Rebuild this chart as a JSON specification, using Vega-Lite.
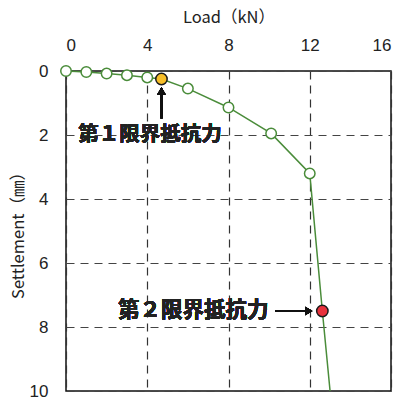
{
  "$schema": "https://vega.github.io/schema/vega-lite/v6.json",
  "width": 325,
  "height": 320,
  "autosize": {"type": "none"},
  "padding": {"left": 66, "top": 71, "right": 10, "bottom": 9},
  "background": "white",
  "config": {
    "view": {"stroke": "#111", "strokeWidth": 1.5},
    "font": "Liberation Sans"
  },
  "data": {
    "values": [
      {"load": 0, "settlement": 0.0, "kind": "test"},
      {"load": 1, "settlement": 0.03, "kind": "test"},
      {"load": 2, "settlement": 0.08, "kind": "test"},
      {"load": 3, "settlement": 0.13, "kind": "test"},
      {"load": 4, "settlement": 0.2, "kind": "test"},
      {"load": 4.7, "settlement": 0.25, "kind": "first"},
      {"load": 6, "settlement": 0.55, "kind": "test"},
      {"load": 8, "settlement": 1.14, "kind": "test"},
      {"load": 10.1, "settlement": 1.95, "kind": "test"},
      {"load": 12, "settlement": 3.2, "kind": "test"},
      {"load": 12.62, "settlement": 7.5, "kind": "second"},
      {"load": 13.0, "settlement": 10.0, "kind": "end"}
    ]
  },
  "encoding": {
    "x": {
      "field": "load", "type": "quantitative",
      "scale": {"domain": [0, 16], "nice": false, "zero": false},
      "axis": {
        "orient": "top", "values": [0, 4, 8, 12, 16], "ticks": false, "domain": false,
        "grid": true, "gridDash": [8, 6], "gridColor": "#333", "gridWidth": 1.2, "gridOpacity": 1,
        "labelFontSize": 17, "labelColor": "#222", "labelPadding": 17,
        "title": "Load（kN）", "titleFontSize": 16.5, "titleFontWeight": "normal", "titleColor": "#222", "titlePadding": 11,
        "titleFont": "Noto Sans CJK JP"
      }
    },
    "y": {
      "field": "settlement", "type": "quantitative",
      "scale": {"domain": [0, 10], "reverse": true, "nice": false, "zero": false},
      "axis": {
        "values": [0, 2, 4, 6, 8, 10], "ticks": false, "domain": false,
        "grid": true, "gridDash": [8, 6], "gridColor": "#444", "gridWidth": 1.2, "gridOpacity": 1,
        "labelFontSize": 17, "labelColor": "#222", "labelPadding": 18,
        "title": "Settlement（㎜）", "titleFontSize": 16.5, "titleFontWeight": "normal", "titleColor": "#222", "titlePadding": 3,
        "titleFont": "Noto Sans CJK JP"
      }
    }
  },
  "layer": [
    {
      "mark": {"type": "line", "color": "#4a8c3a", "strokeWidth": 1.5}
    },
    {
      "transform": [{"filter": "datum.kind == 'test'"}],
      "mark": {"type": "point", "shape": "circle", "filled": true, "fill": "white", "stroke": "#4a8c3a", "strokeWidth": 1.5, "size": 110, "opacity": 1}
    },
    {
      "transform": [{"filter": "datum.kind == 'first'"}],
      "mark": {"type": "point", "shape": "circle", "filled": true, "fill": "#f7bf2a", "stroke": "#1a1a1a", "strokeWidth": 1.5, "size": 130, "opacity": 1}
    },
    {
      "transform": [{"filter": "datum.kind == 'second'"}],
      "mark": {"type": "point", "shape": "circle", "filled": true, "fill": "#e8323c", "stroke": "#1a1a1a", "strokeWidth": 1.5, "size": 130, "opacity": 1}
    },
    {
      "mark": {"type": "rule", "color": "#111", "strokeWidth": 2},
      "encoding": {
        "x": {"datum": 4.7, "type": "quantitative"},
        "y": {"datum": 1.48, "type": "quantitative"},
        "y2": {"datum": 0.7}
      }
    },
    {
      "mark": {"type": "point", "shape": "triangle-up", "filled": true, "color": "#111", "size": 70, "opacity": 1},
      "encoding": {
        "x": {"datum": 4.7, "type": "quantitative"},
        "y": {"datum": 0.62, "type": "quantitative"}
      }
    },
    {
      "mark": {"type": "rule", "color": "#111", "strokeWidth": 2},
      "encoding": {
        "x": {"datum": 10.3, "type": "quantitative"},
        "x2": {"datum": 11.8},
        "y": {"datum": 7.5, "type": "quantitative"}
      }
    },
    {
      "mark": {"type": "point", "shape": "triangle-right", "filled": true, "color": "#111", "size": 70, "opacity": 1},
      "encoding": {
        "x": {"datum": 11.95, "type": "quantitative"},
        "y": {"datum": 7.5, "type": "quantitative"}
      }
    },
    {
      "mark": {"type": "text", "text": "第１限界抵抗力", "font": "Noto Sans CJK JP", "fontWeight": "bold", "fontSize": 20.5, "color": "#222", "align": "center", "baseline": "middle"},
      "encoding": {
        "x": {"datum": 4.14, "type": "quantitative"},
        "y": {"datum": 2.0, "type": "quantitative"}
      }
    },
    {
      "mark": {"type": "text", "text": "第２限界抵抗力", "font": "Noto Sans CJK JP", "fontWeight": "bold", "fontSize": 21.5, "color": "#222", "align": "center", "baseline": "middle"},
      "encoding": {
        "x": {"datum": 6.26, "type": "quantitative"},
        "y": {"datum": 7.5, "type": "quantitative"}
      }
    }
  ]
}
